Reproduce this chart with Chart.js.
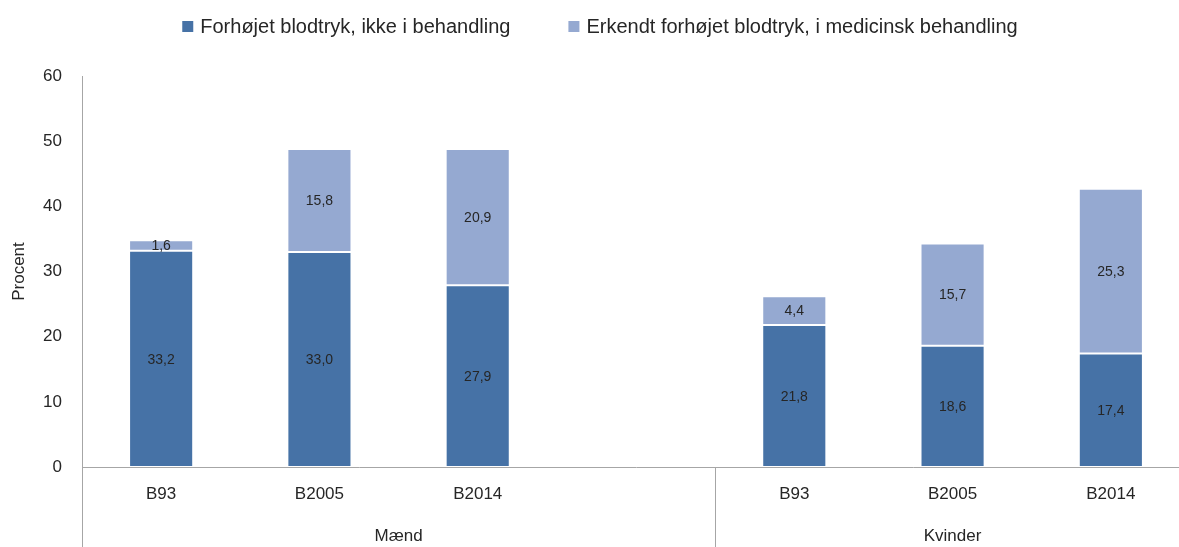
<!DOCTYPE html>
<html>
<head>
<meta charset="utf-8">
<script src="https://cdn.jsdelivr.net/npm/chart.js@4/dist/chart.umd.min.js"></script>
<style>
  html, body { margin: 0; padding: 0; background: #fff; overflow: hidden; }
  #wrap { width: 1190px; height: 547px; }
</style>
</head>
<body>
<div id="wrap"><canvas id="bpChart" width="1190" height="547"></canvas></div>
<script>
// ========== Data ==========
const categories = ['B93', 'B2005', 'B2014', '', 'B93', 'B2005', 'B2014'];
const groups = [
  { label: 'Mænd', from: 0, to: 3 },
  { label: 'Kvinder', from: 4, to: 6 },
];
const untreated = [33.2, 33.0, 27.9, null, 21.8, 18.6, 17.4];
const treated = [1.6, 15.8, 20.9, null, 4.4, 15.7, 25.3];
const seriesNames = ['Forhøjet blodtryk, ikke i behandling', 'Erkendt forhøjet blodtryk, i medicinsk behandling'];
const yTicks = [0, 10, 20, 30, 40, 50, 60];

const FONT = '"Liberation Sans", Arial, sans-serif';
const TXT = '#262626';
const AXIS = '#a6a6a6';
const COLORS = ['#4672a6', '#95a9d1'];

// ========== Plugin: labels, group axis, legend ==========
const extras = {
  id: 'extras',
  afterDatasetsDraw(chart) {
    const ctx = chart.ctx;
    ctx.save();
    ctx.font = '14px ' + FONT;
    ctx.fillStyle = TXT;
    ctx.textAlign = 'center';
    ctx.textBaseline = 'middle';
    chart.data.datasets.forEach((ds, i) => {
      const meta = chart.getDatasetMeta(i);
      meta.data.forEach((bar, j) => {
        const v = ds.data[j];
        if (v == null) return;
        const p = bar.getProps(['x', 'y', 'base'], true);
        ctx.fillText(v.toFixed(1).replace('.', ','), p.x, (p.y + p.base) / 2 + 1);
      });
    });
    ctx.restore();
  },
  afterDraw(chart) {
    const ctx = chart.ctx;
    const xs = chart.scales.x;
    const area = chart.chartArea;
    const cat = xs.getPixelForTick(1) - xs.getPixelForTick(0);
    ctx.save();
    // group separators and labels
    ctx.strokeStyle = AXIS;
    ctx.lineWidth = 1;
    ctx.font = '17px ' + FONT;
    ctx.fillStyle = TXT;
    ctx.textAlign = 'center';
    ctx.textBaseline = 'middle';
    groups.forEach(g => {
      const x0 = xs.getPixelForTick(g.from) - cat / 2;
      const xl = Math.round(x0) + 0.5;
      ctx.beginPath();
      ctx.moveTo(xl, area.bottom);
      ctx.lineTo(xl, chart.height);
      ctx.stroke();
      ctx.fillText(g.label, (x0 + xs.getPixelForTick(g.to) + cat / 2) / 2, 536);
    });
    // legend
    ctx.font = '20px ' + FONT;
    ctx.textAlign = 'left';
    const box = 11, gap = 7, itemGap = 58;
    const widths = seriesNames.map(t => ctx.measureText(t).width);
    const total = widths.reduce((a, w) => a + box + gap + w, 0) + itemGap;
    let x = 600 - total / 2;
    seriesNames.forEach((t, i) => {
      ctx.fillStyle = COLORS[i];
      ctx.fillRect(x, 21, box, box);
      ctx.fillStyle = TXT;
      ctx.fillText(t, x + box + gap, 27);
      x += box + gap + widths[i] + itemGap;
    });
    ctx.restore();
  }
};

// ========== Chart ==========
new Chart(document.getElementById('bpChart'), {
  type: 'bar',
  data: {
    labels: categories,
    datasets: [
      { label: seriesNames[0], data: untreated, backgroundColor: COLORS[0], borderColor: 'rgba(255,255,255,0.2)', borderWidth: 1, borderSkipped: false },
      { label: seriesNames[1], data: treated, backgroundColor: COLORS[1], borderColor: 'rgba(255,255,255,0.2)', borderWidth: 1, borderSkipped: false },
    ]
  },
  options: {
    responsive: false,
    animation: false,
    layout: { padding: { top: 76, right: 0, bottom: 0, left: 0 } },
    datasets: { bar: { categoryPercentage: 1, barPercentage: 0.405 } },
    plugins: { legend: { display: false }, tooltip: { enabled: false } },
    scales: {
      x: {
        stacked: true,
        offset: true,
        grid: { display: false, drawTicks: false },
        border: { display: true, color: AXIS, width: 1 },
        ticks: { color: TXT, font: { size: 17, family: FONT }, padding: 17, maxRotation: 0, autoSkip: false },
        afterFit(s) { s.height = 80; }
      },
      y: {
        stacked: true,
        min: 0, max: 60,
        afterBuildTicks(s) { s.ticks = yTicks.map(v => ({ value: v })); },
        grid: { display: false, drawTicks: false },
        border: { display: true, color: AXIS, width: 1 },
        ticks: { color: TXT, font: { size: 17, family: FONT }, padding: 20 },
        title: { display: true, text: 'Procent', color: TXT, font: { size: 17, family: FONT }, padding: { top: 9, bottom: 0 } },
        afterFit(s) { s.width = 82; }
      }
    }
  },
  plugins: [extras]
});
</script>
</body>
</html>
